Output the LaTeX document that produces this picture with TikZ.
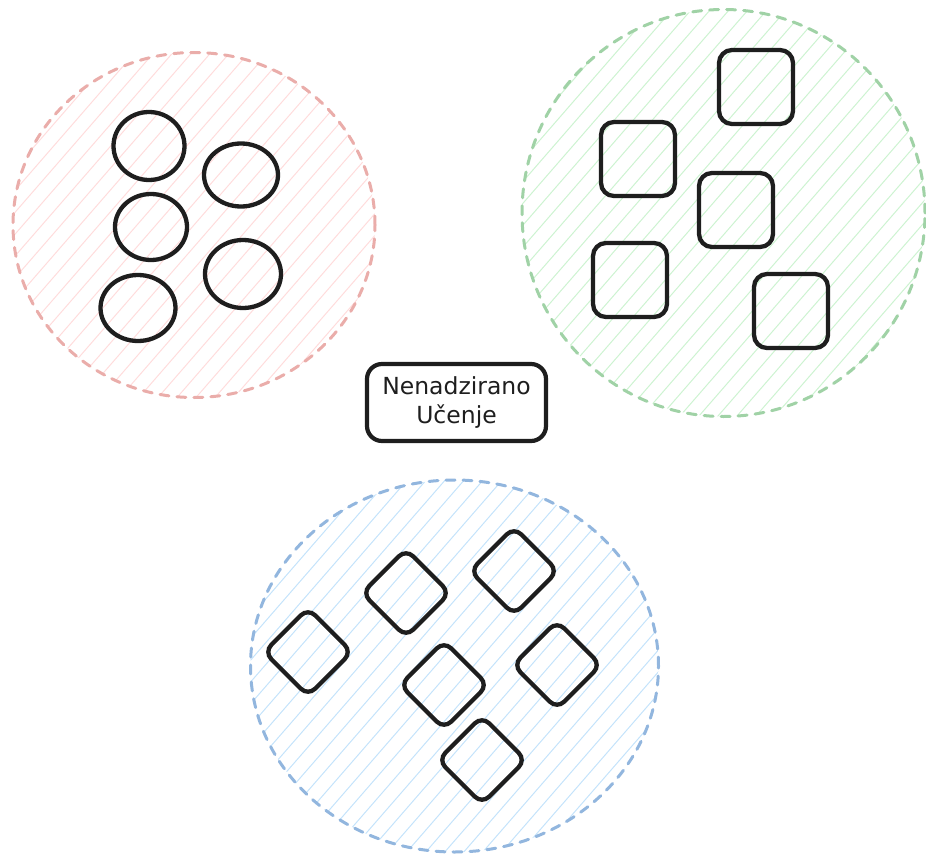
\documentclass[tikz,border=0pt]{standalone}
\usepackage{fontspec}
\setmainfont{DejaVu Sans}
\usetikzlibrary{shapes.geometric}
\definecolor{ink}{HTML}{1E1E1E}
\definecolor{redline}{HTML}{EAADAA}
\definecolor{redhatch}{HTML}{FFDCDC}
\definecolor{greenline}{HTML}{A0D2A6}
\definecolor{greenhatch}{HTML}{CDF3D1}
\definecolor{blueline}{HTML}{92B6DE}
\definecolor{bluehatch}{HTML}{C4E3FB}
\tikzset{
  hatchfill/.style={path picture={
    \foreach \i in {-30,...,30}{
      \draw[#1, solid, line width=1pt, shift={(path picture bounding box.center)}]
        (\i*19pt-200pt, -230pt) -- (\i*19pt+200pt, 230pt);
    }}},
  cluster/.style 2 args={ellipse, draw=#1, line width=3pt, dash pattern=on 9pt off 8pt,
    line cap=round, inner sep=0pt, hatchfill=#2},
  blob/.style={ellipse, draw=ink, line width=4.3pt, inner sep=0pt},
  sqbox/.style={rectangle, draw=ink, line width=4.3pt, rounded corners=13pt,
    minimum width=74pt, minimum height=74pt, inner sep=0pt},
  dmbox/.style={rectangle, draw=ink, line width=4.3pt, rounded corners=10pt,
    minimum width=62pt, minimum height=62pt, inner sep=0pt, rotate=45},
  titlebox/.style={rectangle, draw=ink, line width=4.2pt, rounded corners=15pt,
    minimum width=179pt, minimum height=77pt, inner sep=0pt, align=center,
    font=\fontsize{23.5}{29}\selectfont, text=ink}
}
\begin{document}
\begin{tikzpicture}[x=1pt,y=-1pt]
\useasboundingbox (0,0) rectangle (926,856);
% clusters
\node[cluster={redline}{redhatch}, minimum width=362pt, minimum height=345pt] (red) at (194,225) {};
\node[cluster={greenline}{greenhatch}, minimum width=403pt, minimum height=407pt] (green) at (723.5,213) {};
\node[cluster={blueline}{bluehatch}, minimum width=408pt, minimum height=372pt] (blue) at (454.5,666) {};
% circles
\node[blob, minimum width=71pt, minimum height=68pt] (c1) at (149,146) {};
\node[blob, minimum width=74pt, minimum height=63pt] (c2) at (241,175) {};
\node[blob, minimum width=72pt, minimum height=66pt] (c3) at (151,227) {};
\node[blob, minimum width=76pt, minimum height=68pt] (c4) at (243,274) {};
\node[blob, minimum width=75pt, minimum height=66pt] (c5) at (138,308) {};
% squares
\node[sqbox] (s1) at (756,87) {};
\node[sqbox] (s2) at (638,159) {};
\node[sqbox] (s3) at (736,210) {};
\node[sqbox] (s4) at (630,280) {};
\node[sqbox] (s5) at (791,311) {};
% diamonds
\node[dmbox] (d1) at (308,652) {};
\node[dmbox] (d2) at (406,593) {};
\node[dmbox] (d3) at (514,571) {};
\node[dmbox] (d4) at (444,685) {};
\node[dmbox] (d5) at (557,665) {};
\node[dmbox] (d6) at (482,760) {};
% title
\node[titlebox] (title) at (456.5,402.5) {Nenadzirano\\Učenje};
\end{tikzpicture}
\end{document}
